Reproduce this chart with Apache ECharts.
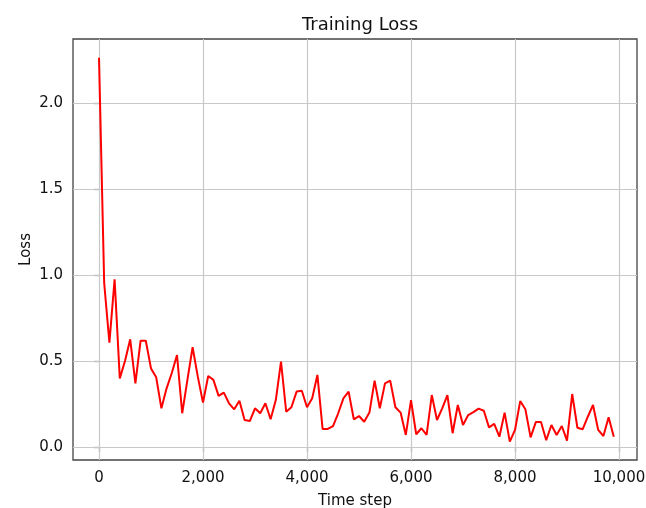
<!DOCTYPE html>
<html>
<head>
<meta charset="utf-8">
<script src="https://cdn.jsdelivr.net/npm/echarts@6/dist/echarts.min.js"></script>
<style>html,body{margin:0;padding:0;background:#fff}#c{width:646px;height:508px}</style>
</head>
<body>
<div id="c"></div>
<script>
const steps = [];
for (let i = 0; i < 100; i++) steps.push(i * 100);
const loss = [
  2.263, 0.952, 0.607, 0.975, 0.399, 0.50, 0.626, 0.370, 0.618, 0.618,
  0.457, 0.405, 0.225, 0.341, 0.43, 0.535, 0.196, 0.39, 0.580, 0.409,
  0.258, 0.413, 0.39, 0.297, 0.316, 0.254, 0.219, 0.269, 0.157, 0.151,
  0.225, 0.196, 0.254, 0.161, 0.273, 0.496, 0.205, 0.231, 0.322, 0.327,
  0.231, 0.283, 0.419, 0.105, 0.105, 0.122, 0.196, 0.283, 0.322, 0.161,
  0.180, 0.147, 0.200, 0.386, 0.225, 0.370, 0.386, 0.231, 0.200, 0.070,
  0.273, 0.074, 0.109, 0.070, 0.302, 0.157, 0.225, 0.302, 0.080, 0.244,
  0.128, 0.186, 0.203, 0.223, 0.211, 0.114, 0.134, 0.060, 0.200, 0.031,
  0.099, 0.267, 0.219, 0.056, 0.145, 0.145, 0.039, 0.128, 0.070, 0.122,
  0.037, 0.308, 0.112, 0.103, 0.176, 0.244, 0.099, 0.064, 0.173, 0.060
];
const xTicks = [0, 2000, 4000, 6000, 8000, 10000];
const yTicks = [0.0, 0.5, 1.0, 1.5, 2.0];

const font = 'DejaVu Sans';
const gridColor = '#c8c8c8';
const chart = echarts.init(document.getElementById('c'), null, {renderer: 'canvas'});
chart.setOption({
  animation: false,
  backgroundColor: '#fff',
  title: {
    text: 'Training Loss', left: 355, top: 11, textAlign: 'center',
    textStyle: {fontFamily: font, fontSize: 18, fontWeight: 'normal', color: '#111'}
  },
  grid: {left: 73, right: 9, top: 39, bottom: 48, outerBoundsMode: 'none', containLabel: false,
    show: true, borderColor: '#444', borderWidth: 1.3, backgroundColor: 'transparent'},
  xAxis: {
    type: 'value', min: -500, max: 10346,
    name: 'Time step', nameLocation: 'middle', nameGap: 34, nameMoveOverlap: false,
    nameTextStyle: {fontFamily: font, fontSize: 15, color: '#111'},
    axisLine: {show: false},
    axisTick: {show: true, length: 5, inside: false, customValues: xTicks, lineStyle: {color: '#444', width: 1.2}},
    axisLabel: {customValues: xTicks, margin: 11, fontFamily: font, fontSize: 15, color: '#111',
      formatter: v => Number(v).toLocaleString('en-US')},
    splitLine: {show: false}
  },
  yAxis: {
    type: 'value', min: -0.0756, max: 2.372,
    name: 'Loss', nameLocation: 'middle', nameGap: 39, nameRotate: 90, nameMoveOverlap: false,
    nameTextStyle: {fontFamily: font, fontSize: 15, color: '#111'},
    axisLine: {show: false},
    axisTick: {show: true, length: 5, customValues: yTicks, lineStyle: {color: '#444', width: 1.2}},
    axisLabel: {customValues: yTicks, margin: 10, fontFamily: font, fontSize: 15, color: '#111',
      formatter: v => Number(v).toFixed(1)},
    splitLine: {show: false}
  },
  series: [{
    type: 'line',
    data: steps.map((s, i) => [s, loss[i]]),
    showSymbol: false,
    lineStyle: {color: '#ff0000', width: 2},
    itemStyle: {color: '#ff0000'},
    z: 5,
    markLine: {
      silent: true, symbol: 'none', animation: false, z: 1,
      label: {show: false},
      lineStyle: {color: gridColor, width: 1.2, type: 'solid'},
      data: xTicks.map(v => ({xAxis: v})).concat(yTicks.map(v => ({yAxis: v})))
    }
  }]
});
</script>
</body>
</html>
